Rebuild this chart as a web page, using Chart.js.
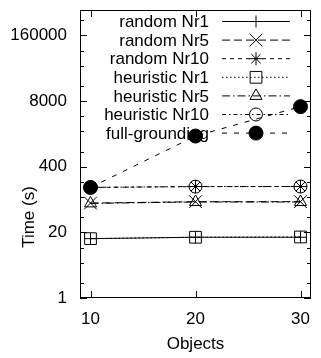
<!DOCTYPE html>
<html lang="en">
<head>
    <meta charset="UTF-8">
    <title>Time vs Objects</title>
    <script src="https://cdn.jsdelivr.net/npm/chart.js"></script>
    <style>
        html, body { margin: 0; padding: 0; background: #fff; overflow: hidden; }
        .chart-box { position: relative; width: 321px; height: 358px; }
        canvas { display: block; }
    </style>
</head>
<body>
    <div class="chart-box">
        <canvas id="timeChart"></canvas>
    </div>

    <script>
        // data
        const objects = [10, 20, 30];
        const randomNr1 = [15, 16, 16];
        const randomNr5 = [76, 81, 81];
        const randomNr10 = [155, 162, 162];
        const heuristicNr1 = [15, 16, 16.2];
        const heuristicNr5 = [75, 80, 80];
        const heuristicNr10 = [156, 161, 162];
        const fullGrounding = [155, 1620, 6200];
        const xTicks = [10, 20, 30];
        const yTicks = [1, 20, 400, 8000, 160000];
        const yMax = 510000;

        const font = { family: '"Liberation Sans", Arial, sans-serif', size: 17 };
        const fontStr = '17px "Liberation Sans", Arial, sans-serif';
        const black = '#000';

        function series(label, values, dash, style, radius, fill) {
            return {
                label: label,
                data: objects.map((x, i) => ({ x: x, y: values[i] })),
                borderColor: black,
                borderWidth: 1,
                borderDash: dash,
                pointStyle: style,
                pointRadius: radius,
                pointBorderColor: black,
                pointBorderWidth: 1,
                pointBackgroundColor: fill ? black : 'rgba(0,0,0,0)',
                tension: 0
            };
        }

        // stop tick labels from pushing the plot area around
        function noEdgePadding(s) {
            s.paddingTop = 0;
            s.paddingBottom = 0;
            s.paddingLeft = 0;
            s.paddingRight = 0;
        }

        // gnuplot-like frame, inward ticks, legend and y title
        const framePlugin = {
            id: 'frame',
            afterDatasetsDraw(chart) {
                const ctx = chart.ctx;
                const a = chart.chartArea;
                const xs = chart.scales.x, ys = chart.scales.y;
                ctx.save();
                ctx.strokeStyle = black;
                ctx.lineWidth = 1;
                ctx.setLineDash([]);
                ctx.strokeRect(Math.round(a.left) + 0.5, Math.round(a.top) + 0.5,
                    Math.round(a.right - a.left) - 1, Math.round(a.bottom - a.top) - 1);
                ctx.beginPath();
                yTicks.forEach(v => {
                    const y = Math.round(ys.getPixelForValue(v)) + 0.5;
                    ctx.moveTo(a.left, y); ctx.lineTo(a.left + 7, y);
                    ctx.moveTo(a.right, y); ctx.lineTo(a.right - 7, y);
                    [2, 5, 10].forEach(m => {
                        const mv = v * m;
                        if (mv >= yMax) return;
                        const my = Math.round(ys.getPixelForValue(mv)) + 0.5;
                        ctx.moveTo(a.left, my); ctx.lineTo(a.left + 4, my);
                        ctx.moveTo(a.right, my); ctx.lineTo(a.right - 4, my);
                    });
                });
                xTicks.forEach(v => {
                    const x = Math.round(xs.getPixelForValue(v)) + 0.5;
                    ctx.moveTo(x, a.bottom); ctx.lineTo(x, a.bottom - 7);
                    ctx.moveTo(x, a.top); ctx.lineTo(x, a.top + 7);
                });
                ctx.stroke();

                // legend, top right inside the plot
                ctx.font = fontStr;
                ctx.fillStyle = black;
                ctx.textAlign = 'right';
                ctx.textBaseline = 'middle';
                chart.data.datasets.forEach((ds, i) => {
                    const y = a.top + 11.5 + i * 18.6;
                    ctx.fillText(ds.label, a.right - 102, y + 1);
                    ctx.setLineDash(ds.borderDash);
                    ctx.beginPath();
                    ctx.moveTo(a.right - 89, y);
                    ctx.lineTo(a.right - 21, y);
                    ctx.stroke();
                    ctx.setLineDash([]);
                    ctx.fillStyle = ds.pointBackgroundColor;
                    Chart.helpers.drawPoint(ctx, {
                        pointStyle: ds.pointStyle,
                        radius: ds.pointRadius,
                        rotation: 0,
                        borderWidth: 1
                    }, a.right - 55, y);
                    ctx.fillStyle = black;
                });

                // y axis title
                ctx.translate(29, 217);
                ctx.rotate(-Math.PI / 2);
                ctx.textAlign = 'center';
                ctx.fillText('Time (s)', 0, 0);
                ctx.restore();
            }
        };

        new Chart(document.getElementById('timeChart'), {
            type: 'line',
            data: {
                datasets: [
                    series('random Nr1', randomNr1, [], 'cross', 6, false),
                    series('random Nr5', randomNr5, [8, 4], 'crossRot', 9, false),
                    series('random Nr10', randomNr10, [4, 4], 'star', 6.5, false),
                    series('heuristic Nr1', heuristicNr1, [1.5, 2.5], 'rect', 8.3, false),
                    series('heuristic Nr5', heuristicNr5, [8, 3, 1.5, 3], 'triangle', 7, false),
                    series('heuristic Nr10', heuristicNr10, [4, 3, 1.5, 3], 'circle', 6.5, false),
                    series('full-grounding', fullGrounding, [5, 7], 'circle', 7, true)
                ]
            },
            options: {
                responsive: true,
                maintainAspectRatio: false,
                animation: false,
                layout: { padding: { top: 5, right: 3, left: 0, bottom: 0 } },
                plugins: {
                    legend: { display: false },
                    tooltip: { enabled: false }
                },
                scales: {
                    x: {
                        type: 'linear',
                        min: 9,
                        max: 31,
                        afterBuildTicks: s => { s.ticks = xTicks.map(v => ({ value: v })); },
                        afterFit: s => { s.height = 60; noEdgePadding(s); },
                        grid: { display: false, drawTicks: false },
                        border: { display: false },
                        ticks: { padding: 11, font: font, color: black, maxRotation: 0 },
                        title: { display: true, text: 'Objects', font: font, color: black, padding: { top: 0, bottom: 3 } }
                    },
                    y: {
                        type: 'logarithmic',
                        min: 1,
                        max: yMax,
                        afterBuildTicks: s => { s.ticks = yTicks.map(v => ({ value: v })); },
                        afterFit: s => { s.width = 80; noEdgePadding(s); },
                        grid: { display: false, drawTicks: false },
                        border: { display: false },
                        ticks: { padding: 13, font: font, color: black, callback: v => String(v) }
                    }
                }
            },
            plugins: [framePlugin]
        });
    </script>
</body>
</html>
